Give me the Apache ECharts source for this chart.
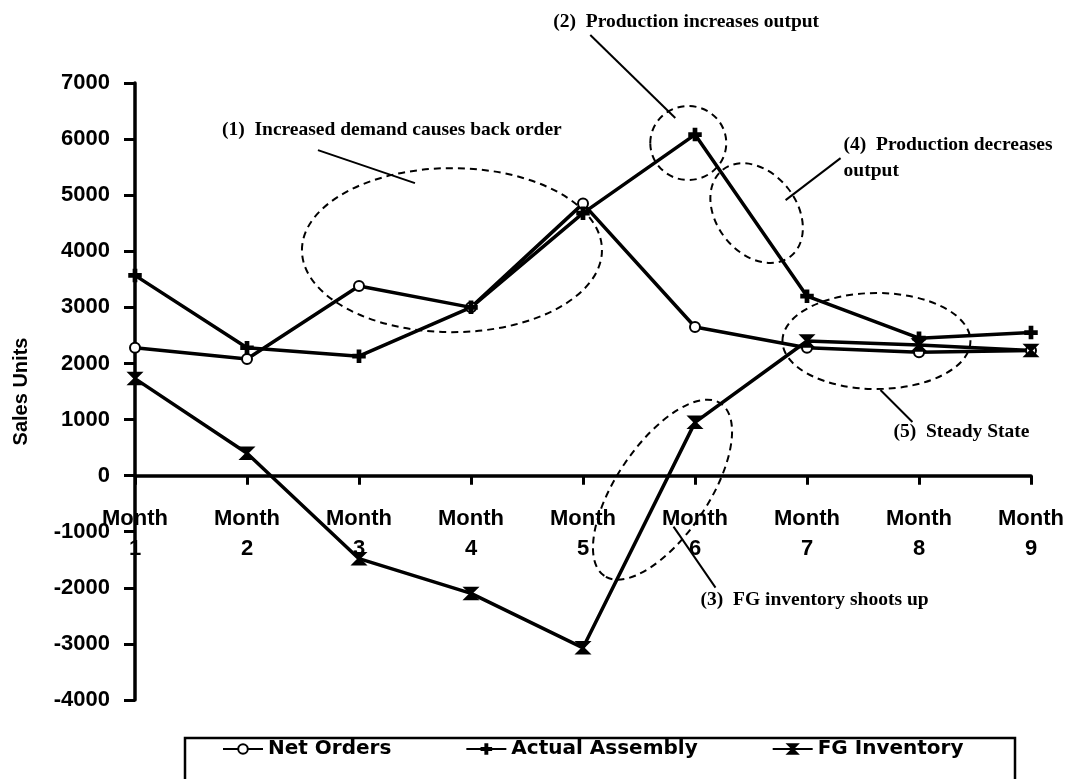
<!DOCTYPE html>
<html>
<head>
<meta charset="utf-8">
<script src="https://cdn.jsdelivr.net/npm/echarts@6/dist/echarts.min.js"></script>
<style>
  html, body { margin: 0; padding: 0; background: #fff; }
  #chart { width: 1067px; height: 779px; }
</style>
</head>
<body>
<div id="chart"></div>
<script>
// Monthly sales units: orders, assembly output and finished-goods inventory
const months = ['Month\n1', 'Month\n2', 'Month\n3', 'Month\n4', 'Month\n5',
                'Month\n6', 'Month\n7', 'Month\n8', 'Month\n9'];
const netOrders      = [2280, 2080, 3380, 3000, 4850, 2650, 2280, 2200, 2230];
const actualAssembly = [3570, 2280, 2130, 3000, 4680, 6080, 3200, 2450, 2550];
const fgInventory    = [1730, 400, -1480, -2100, -3070, 950, 2400, 2330, 2230];
const yMin = -4000, yMax = 7000, yStep = 1000;

// Callouts: ellipse centred on a point in data space [month index, units],
// with its note text and leader line placed relative to that centre.
const callouts = [
  { at: [2.83, 4020], rx: 150, ry: 82, rot: 0,
    text: '(1)  Increased demand causes back order', textOff: [-230, -120],
    lead: [[-134, -100], [-37, -67]] },
  { at: [4.94, 5930], rx: 38, ry: 37, rot: 0,
    text: '(2)  Production increases output', textOff: [-135, -121],
    lead: [[-98, -108], [-13, -25]] },
  { at: [4.71, -250], rx: 104, ry: 46, rot: 56,
    text: '(3)  FG inventory shoots up', textOff: [38, 110],
    lead: [[11, 37], [53, 98]] },
  { at: [5.55, 4680], rx: 55, ry: 40, rot: -52,
    text: '(4)  Production decreases\noutput', textOff: [87, -55],
    lead: [[29, -13], [84, -55]] },
  { at: [6.62, 2400], rx: 94, ry: 48, rot: 0,
    text: '(5)  Steady State', textOff: [17, 91],
    lead: [[4, 49], [36, 81]] }
];

const AXIS_FONT = '"Liberation Sans", Arial, sans-serif';
const NOTE_FONT = '"Liberation Serif", "Times New Roman", serif';

const plusPath = 'path://M4,0 H6 V4 H10 V6 H6 V10 H4 V6 H0 V4 H4 Z';
const hourglassPath = 'path://M0,0 L10,0 L0,10 L10,10 Z';

const GRID = { left: 135, right: 36, top: 83, bottom: 79 };
const CHART_H = 779;
// Shift the category axis (with its labels) up to the zero line
const plotH = CHART_H - GRID.top - GRID.bottom;
const zeroOffset = -plotH * (0 - yMin) / (yMax - yMin);

const chart = echarts.init(document.getElementById('chart'), null, { renderer: 'canvas' });

function lineSeries(name, data, symbol, size) {
  return {
    name, type: 'line', data, symbol, symbolSize: size, showSymbol: true,
    lineStyle: { color: '#000', width: 3.5 },
    itemStyle: { color: '#000', borderColor: '#000', borderWidth: 2.5 },
    emphasis: { disabled: true },
    animation: false
  };
}

const option = {
  backgroundColor: '#fff',
  animation: false,
  grid: GRID,
  legend: {
    left: 222, top: 739,
    itemWidth: 40, itemHeight: 12, itemGap: 74,
    padding: 0,
    textStyle: { fontFamily: '"DejaVu Sans", sans-serif', fontWeight: 'bold', fontSize: 20, color: '#000' },
    data: ['Net Orders', 'Actual Assembly', 'FG Inventory']
  },
  xAxis: {
    type: 'category',
    data: months,
    boundaryGap: false,
    position: 'bottom',
    offset: zeroOffset,
    axisLine: { onZero: false, lineStyle: { color: '#000', width: 3.5 } },
    axisTick: { show: true, length: 9, lineStyle: { color: '#000', width: 3 } },
    axisLabel: {
      color: '#000', fontFamily: AXIS_FONT, fontWeight: 'bold', fontSize: 22,
      lineHeight: 30, margin: 28, interval: 0
    },
    splitLine: { show: false }
  },
  yAxis: {
    type: 'value',
    min: yMin, max: yMax, interval: yStep,
    name: 'Sales Units',
    nameLocation: 'middle',
    nameGap: 104,
    nameRotate: 90,
    nameTextStyle: { color: '#000', fontFamily: AXIS_FONT, fontWeight: 'bold', fontSize: 20 },
    axisLine: { show: true, onZero: false, lineStyle: { color: '#000', width: 3.5 } },
    axisTick: { show: true, length: 11, lineStyle: { color: '#000', width: 3 } },
    axisLabel: {
      color: '#000', fontFamily: AXIS_FONT, fontWeight: 'bold', fontSize: 22, margin: 25,
      formatter: (v) => String(v)
    },
    splitLine: { show: false }
  },
  series: [
    lineSeries('Net Orders', netOrders, 'emptyCircle', 10),
    lineSeries('Actual Assembly', actualAssembly, plusPath, 11),
    lineSeries('FG Inventory', fgInventory, hourglassPath, 11)
  ]
};
chart.setOption(option);

// Map a (possibly fractional) month index and a value to pixels
function toPx(i, v) {
  const i0 = Math.floor(i), i1 = Math.min(i0 + 1, months.length - 1);
  const p0 = chart.convertToPixel({ gridIndex: 0 }, [i0, v]);
  const p1 = chart.convertToPixel({ gridIndex: 0 }, [i1, v]);
  const t = i - i0;
  return [p0[0] + (p1[0] - p0[0]) * t, p0[1]];
}

const graphics = [];
callouts.forEach((c) => {
  const [cx, cy] = toPx(c.at[0], c.at[1]);
  graphics.push({
    type: 'ellipse', x: cx, y: cy, rotation: c.rot * Math.PI / 180, silent: true,
    shape: { cx: 0, cy: 0, rx: c.rx, ry: c.ry },
    style: { fill: 'none', stroke: '#000', lineWidth: 2, lineDash: [7, 5] }
  });
  graphics.push({
    type: 'line', silent: true,
    shape: { x1: cx + c.lead[0][0], y1: cy + c.lead[0][1], x2: cx + c.lead[1][0], y2: cy + c.lead[1][1] },
    style: { stroke: '#000', lineWidth: 2 }
  });
  graphics.push({
    type: 'text', silent: true, x: cx + c.textOff[0], y: cy + c.textOff[1],
    style: {
      text: c.text, fill: '#000', font: 'bold 19.5px ' + NOTE_FONT,
      lineHeight: 26, verticalAlign: 'middle', align: 'left'
    }
  });
});
// Legend frame
graphics.push({
  type: 'rect', silent: true,
  shape: { x: 185, y: 738, width: 830, height: 60 },
  style: { fill: 'none', stroke: '#000', lineWidth: 2.5 }
});
chart.setOption({ graphic: graphics });
</script>
</body>
</html>
